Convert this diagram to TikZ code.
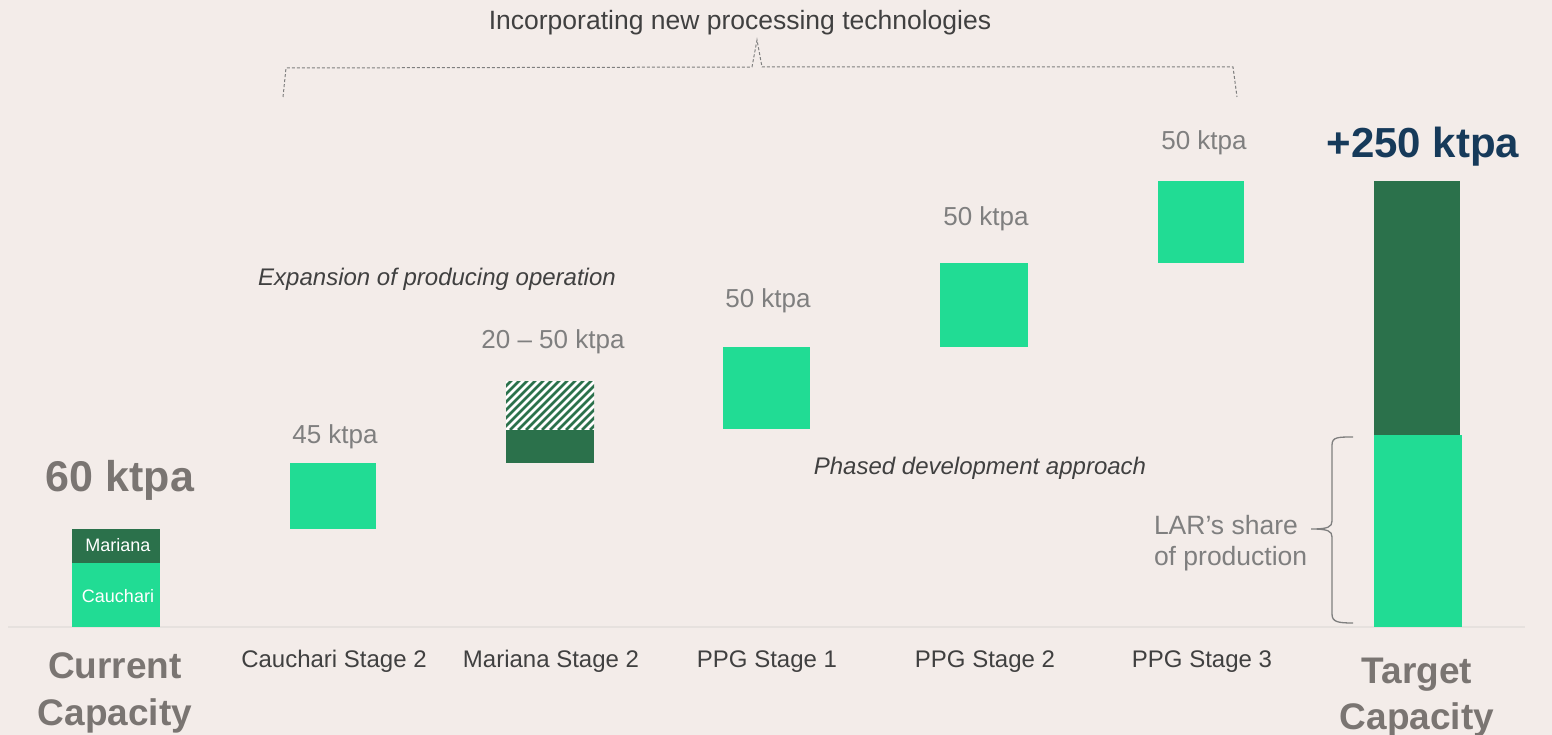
\documentclass[tikz,border=0pt]{standalone}
\usepackage{fontspec}
\setmainfont{Liberation Sans}
\definecolor{bg}{HTML}{F3ECE9}
\definecolor{lgreen}{HTML}{21DC94}
\definecolor{dgreen}{HTML}{2B714B}
\definecolor{lgray}{HTML}{7F7F7F}
\definecolor{tgray}{HTML}{7A7572}
\definecolor{dgray}{HTML}{404040}
\definecolor{navy}{HTML}{163A5A}
\definecolor{axis}{HTML}{E6E1DE}
\begin{document}
\begin{tikzpicture}[x=1pt,y=-1pt,
  every node/.style={inner sep=0pt,outer sep=0pt},
  bar/.style={fill=lgreen,draw=none},
  dbar/.style={fill=dgreen,draw=none},
  val/.style={anchor=base,text=lgray,font=\fontsize{26pt}{30pt}\selectfont},
  cat/.style={anchor=base,text=dgray,font=\fontsize{24pt}{28pt}\selectfont},
  note/.style={anchor=base,text=dgray,font=\itshape\fontsize{24pt}{28pt}\selectfont},
  bigval/.style={anchor=base,text=tgray,font=\bfseries\fontsize{43pt}{46pt}\selectfont},
  captitle/.style={anchor=base,text=tgray,font=\bfseries\fontsize{37pt}{40pt}\selectfont},
  inbar/.style={text=white,font=\fontsize{18pt}{20pt}\selectfont},
  share/.style={anchor=base west,text=lgray,font=\fontsize{26.5pt}{30pt}\selectfont},
  bracestyle/.style={draw=lgray,line width=1.3pt},
  dbrace/.style={draw=lgray,line width=1pt,dash pattern=on 3pt off 2pt}]
\useasboundingbox[fill=bg] (0,0) rectangle (1552,735);
% baseline
\draw[axis,line width=1.5pt] (8,627) -- (1525,627);
% Current capacity
\node[bar,minimum width=88pt,minimum height=64pt] (cc1) at (116,595) {};
\node[dbar,minimum width=88pt,minimum height=34pt] (cc2) at (116,546) {};
\node[inbar] (cct1) at (118,596) {Cauchari};
\node[inbar] (cct2) at (118,545) {Mariana};
\node[bigval] (v0) at (120,491) {60 ktpa};
\node[captitle] (l0a) at (115,678) {Current};
\node[captitle] (l0b) at (115,725) {Capacity};
% Cauchari Stage 2
\node[bar,minimum width=86pt,minimum height=66pt] (b1) at (333,496) {};
\node[val] (v1) at (335,443) {45 ktpa};
\node[cat] (l1) at (334,667) {Cauchari Stage 2};
% Mariana Stage 2
\node[dbar,minimum width=88pt,minimum height=33pt] (b2) at (550,446.5) {};
\node[fill=white,minimum width=88pt,minimum height=49pt] (b2h) at (550,405.5) {};
\begin{scope}
\clip (b2h.north west) rectangle (b2h.south east);
\foreach \i in {0,...,20}{
  \draw[dgreen,line width=2.8pt] ({506-60+8*\i},430) -- ({506-60+8*\i+60},370);
}
\end{scope}
\node[val] (v2) at (553,348) {20 – 50 ktpa};
\node[cat] (l2) at (551,667) {Mariana Stage 2};
% PPG Stage 1
\node[bar,minimum width=87pt,minimum height=82pt] (b3) at (766.5,388) {};
\node[val] (v3) at (768,307) {50 ktpa};
\node[cat] (l3) at (767,667) {PPG Stage 1};
% PPG Stage 2
\node[bar,minimum width=88pt,minimum height=84pt] (b4) at (984,305) {};
\node[val] (v4) at (986,226) {50 ktpa};
\node[cat] (l4) at (985,667) {PPG Stage 2};
% PPG Stage 3
\node[bar,minimum width=86pt,minimum height=82pt] (b5) at (1201,222) {};
\node[val] (v5) at (1204,150) {50 ktpa};
\node[cat] (l5) at (1202,667) {PPG Stage 3};
% Target
\node[dbar,minimum width=86pt,minimum height=254pt] (t1) at (1417,308) {};
\node[bar,minimum width=88pt,minimum height=192pt] (t2) at (1418,531) {};
\node[bigval,text=navy,font=\bfseries\fontsize{42pt}{45pt}\selectfont] (v6) at (1423,158) {+250 ktpa};
\node[captitle] (l6a) at (1417,683) {Target};
\node[captitle] (l6b) at (1417,729) {Capacity};
% notes
\node[note] (n1) at (437,285) {Expansion of producing operation};
\node[note] (n2) at (980,474) {Phased development approach};
\node[share] (s1) at (1154,534) {LAR’s share};
\node[share] (s2) at (1154,565) {of production};
% right brace
\coordinate (rbt) at (1353,437);
\coordinate (rbb) at (1353,623);
\coordinate (rbm) at (1311,529);
\draw[bracestyle] (rbt) .. controls (1338,437) and (1332,437) .. (1332,445)
  -- (1332,521) .. controls (1332,527) and (1328,529) .. (rbm)
  (rbm) .. controls (1328,529) and (1332,531) .. (1332,537)
  -- (1332,614) .. controls (1332,622) and (1338,623) .. (rbb);
% top text and dashed brace
\node[anchor=base,text=dgray,font=\fontsize{26.5pt}{30pt}\selectfont] (top) at (740,30) {Incorporating new processing technologies};
\coordinate (tl) at (283,97);
\coordinate (tr) at (1237,97);
\coordinate (tm) at (757,40);
\draw[dbrace] (tl) -- (286,68) -- (752,67) -- (tm) -- (762,67) -- (1233,67) -- (tr);
\end{tikzpicture}
\end{document}
